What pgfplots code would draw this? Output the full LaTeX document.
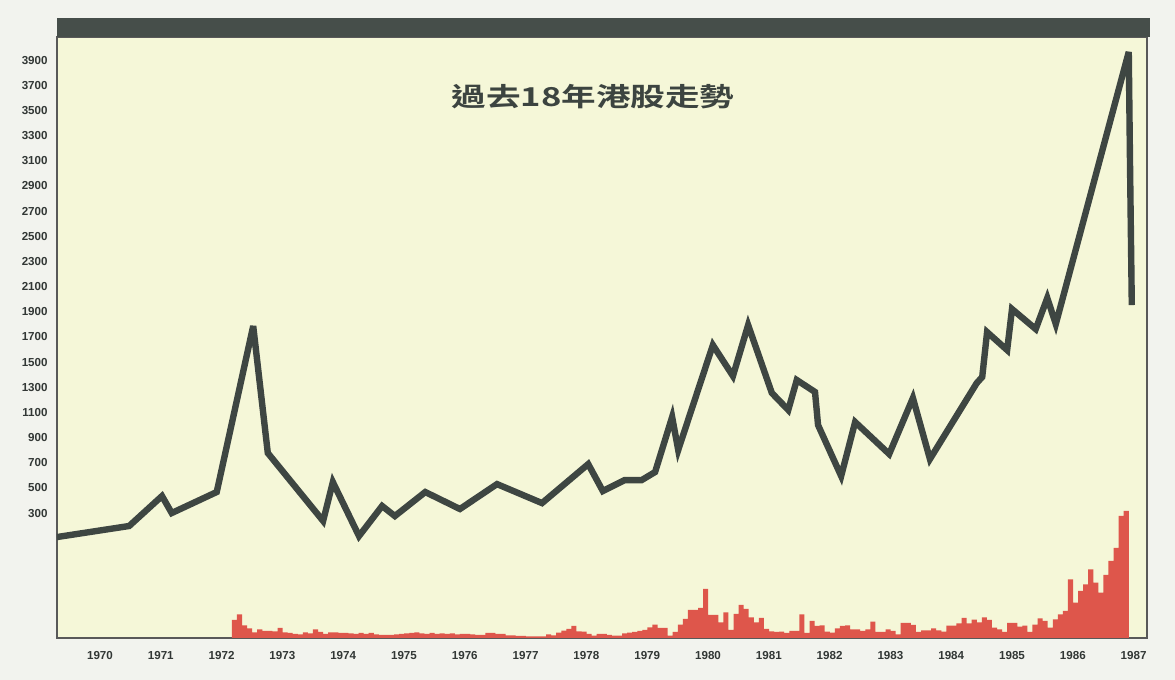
\documentclass[border=0pt]{standalone}
\usepackage{pgfplots}
\pgfplotsset{compat=1.18}
\usepackage{pgfplotstable}
\usepackage{fontspec}
\setmainfont{Liberation Sans}
\newfontfamily\cjk{Noto Sans CJK TC}[BoldFont={* Bold}]
\definecolor{plotbg}{RGB}{245,247,216}
\definecolor{pagebg}{RGB}{242,243,238}
\definecolor{linegray}{RGB}{62,70,66}
\definecolor{topbar}{RGB}{70,78,74}
\definecolor{barred}{RGB}{222,86,75}
\definecolor{labelgray}{RGB}{50,55,53}
\definecolor{titlegray}{RGB}{60,68,64}

% monthly volume bars (height in chart units), month 0 = early 1972
\pgfplotstableread{
m h
0 18
1 23.5
2 12.5
3 9.5
4 5.5
5 8.5
6 7
7 7
8 6.5
9 10
10 5.5
11 5
12 4
13 3.5
14 5.5
15 4.5
16 8.5
17 6
18 4
19 5.5
20 5.5
21 5
22 5
23 4.5
24 4
25 5
26 4
27 5
28 3.5
29 3
30 3
31 3
32 3.5
33 4
34 4.5
35 5
36 5.5
37 4.5
38 4
39 5
40 4
41 4.5
42 4
43 4.5
44 3.5
45 4
46 4
47 3.5
48 3
49 3
50 5
51 5
52 4
53 4
54 2.5
55 2.5
56 2
57 2
58 1.7
59 1.7
60 1.7
61 1.7
62 3.7
63 2.7
64 5.3
65 7.3
66 9
67 12
68 6.7
69 6.3
70 4
71 2.3
72 4
73 4
74 3
75 2.3
76 2.3
77 4.7
78 5.3
79 6
80 7
81 8
82 10.7
83 13.3
84 10
85 10
86 2.3
87 6
88 13.3
89 19
90 28
91 28
92 30
93 49
94 23
95 23
96 15.7
97 25.7
98 8
99 24
100 33
101 29
102 20.7
103 15.7
104 20
105 9
106 6.7
107 6
108 6.3
109 5
110 7
111 7
112 23.7
113 5
114 17
115 12
116 12.7
117 6.3
118 5.3
119 9.7
120 12
121 12.7
122 8.7
123 8.7
124 7
125 8.7
126 16.3
127 6
128 6
129 8.7
130 7
131 3.7
132 15
133 15
134 13
135 6
136 7.7
137 7.7
138 9.7
139 7.7
140 6.3
141 12.3
142 12.3
143 14.7
144 20
145 14.7
146 18.3
147 15.7
148 20.7
149 18
150 10.3
151 8.7
152 6
153 15
154 15
155 11.3
156 12.3
157 6
158 13.3
159 19.7
160 17
161 10.3
162 18.7
163 23.7
164 27
165 58.7
166 35.3
167 47
168 53.7
169 68.7
170 55.3
171 45.3
172 63
173 77
174 90
175 122
176 127
177 127
}\voltable

\begin{document}
\begin{tikzpicture}
\useasboundingbox (-28.5pt,-21pt) rectangle (559pt,319pt);
\fill[pagebg] (-28.5pt,-21pt) rectangle (559pt,319pt);
\begin{axis}[
  at={(0,0)}, anchor=south west,
  scale only axis, width=545pt, height=300.5pt,
  xmin=1969.293, xmax=1987.22,
  ymin=-693, ymax=4083,
  axis background/.style={fill=plotbg},
  axis line style={draw=black!65, line width=0.6pt},
  xtick={1970,1971,...,1987},
  ytick={300,500,...,3900},
  major tick length=0pt,
  tick style={draw=none},
  scaled ticks=false,
  /pgf/number format/1000 sep={},
  /pgf/number format/assume math mode=true,
  ticklabel style={font=\fontsize{5.8}{6.5}\selectfont\bfseries, text=labelgray},
  yticklabel style={anchor=east, inner sep=0pt, xshift=-4.5pt},
  xticklabel style={anchor=north, inner sep=0pt, yshift=-6.3pt},
]
\addplot[draw=linegray, line width=3.2pt, line join=miter, miter limit=6] coordinates {
(1969.29,109)
(1970.48,197)
(1971.02,435)
(1971.18,300)
(1971.92,467)
(1972.52,1786)
(1972.76,777)
(1973.67,237)
(1973.83,546)
(1974.26,117)
(1974.64,356)
(1974.85,276)
(1975.35,467)
(1975.92,332)
(1976.53,530)
(1977.27,379)
(1978.03,689)
(1978.27,475)
(1978.63,562)
(1978.91,562)
(1979.13,626)
(1979.41,1063)
(1979.51,801)
(1980.08,1635)
(1980.41,1389)
(1980.66,1794)
(1981.05,1254)
(1981.32,1119)
(1981.46,1357)
(1981.76,1262)
(1981.81,999)
(1982.19,594)
(1982.42,1023)
(1982.98,769)
(1983.37,1214)
(1983.65,729)
(1984.42,1333)
(1984.51,1381)
(1984.59,1738)
(1984.92,1595)
(1985.00,1921)
(1985.39,1762)
(1985.58,2009)
(1985.72,1802)
(1986.92,3964)
(1986.94,3105)
(1986.97,1953)
};
\end{axis}
\begin{axis}[
  at={(0,0)}, anchor=south west,
  scale only axis, width=545pt, height=300.5pt,
  xmin=-34.52, xmax=180.6,
  ymin=0, ymax=601,
  hide axis,
]
\addplot[const plot mark left, fill=barred, draw=none] table[x=m, y=h] {\voltable} \closedcycle;
\end{axis}
\fill[topbar] (0,300.5pt) rectangle (546.5pt,310pt);
\node[font=\cjk\fontsize{13}{15}\selectfont\bfseries, text=titlegray, xscale=1.33] at (268pt,270.5pt) {過去18年港股走勢};
\end{tikzpicture}
\end{document}
